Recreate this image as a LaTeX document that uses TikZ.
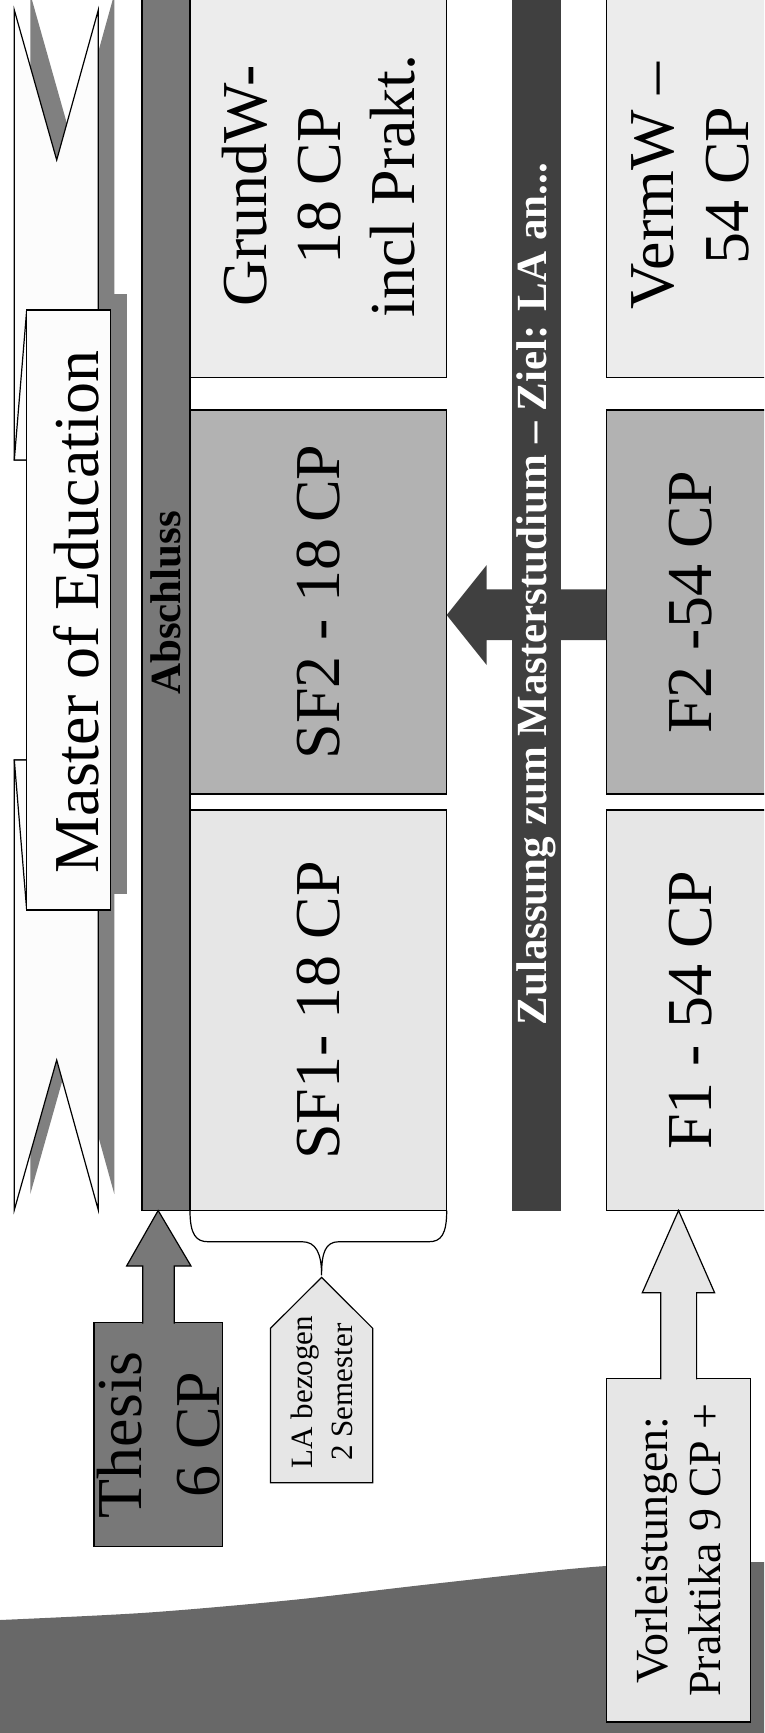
\documentclass[tikz,border=0pt]{standalone}
\usepackage{fontspec}
\setmainfont{Liberation Serif}
\usetikzlibrary{calc}

\definecolor{ribbonwhite}{HTML}{FCFCFC}
\definecolor{shadowgrey}{HTML}{808080}
\definecolor{midgrey}{HTML}{787878}
\definecolor{darkgrey}{HTML}{404040}
\definecolor{lightbox}{HTML}{ECECEC}
\definecolor{palebox}{HTML}{E6E6E6}
\definecolor{greybox}{HTML}{B2B2B2}
\definecolor{wavegrey}{HTML}{686868}

\tikzset{
    outline/.style={draw=black, line width=1.2pt},
    cpbox/.style={outline, rotate=90, inner sep=0pt, outer sep=0pt, align=center, font=\fontsize{64}{74}\selectfont},
    barbox/.style={rotate=90, inner sep=0pt, outer sep=0pt, font=\fontsize{43}{50}\selectfont\bfseries},
}

\begin{document}
\begin{tikzpicture}[x=1pt, y=-1pt]
    \useasboundingbox (0,0) rectangle (764,1733);
    \clip (0,0) rectangle (764,1733);
    
%____________________________________________________________________________________________________
    \fill[wavegrey] plot[smooth] coordinates {(0,1620) (146,1612.7) (292,1600) (438,1583.3) (606,1566) (764,1562)} -- (764,1733) -- (0,1733) -- cycle;
    
%____________________________________________________________________________________________________
    \begin{scope}[shift={(16,-16)}]
        \fill[shadowgrey] (14.3,10) -- (56.7,160) -- (98.3,10) -- (98.3,460) -- (14.3,460) -- cycle;
        \fill[shadowgrey] (14.3,760) -- (98.3,760) -- (98.3,1210) -- (56.7,1060) -- (14.3,1210) -- cycle;
        \fill[shadowgrey] (26.7,310) rectangle (110.7,910);
    \end{scope}
    \draw[outline, fill=ribbonwhite] (14.3,10) -- (56.7,160) -- (98.3,10) -- (98.3,460) -- (14.3,460) -- cycle;
    \draw[outline, fill=ribbonwhite] (14.3,760) -- (98.3,760) -- (98.3,1210) -- (56.7,1060) -- (14.3,1210) -- cycle;
    \draw[outline, fill=ribbonwhite] (26.7,310) -- (26.7,460) -- (14.3,460) -- cycle;
    \draw[outline, fill=ribbonwhite] (14.3,760) -- (26.7,760) -- (26.7,910) -- cycle;
    \draw[outline, fill=ribbonwhite] (26.7,310) rectangle (110.7,910);
    \node[rotate=90, anchor=base, font=\fontsize{64}{74}\selectfont] (title) at (98.3,612) {Master of Education};
    
%____________________________________________________________________________________________________
    \node[barbox, outline, fill=midgrey, minimum width=1215.5pt, minimum height=48pt] (abschl) at (166,602.75) {Abschluss};
    \node[cpbox, fill=lightbox, minimum width=383.7pt, minimum height=256.7pt] (grundw) at (318.35,185.85) {GrundW-\\18 CP\\incl Prakt.};
    \node[cpbox, fill=greybox, minimum width=384pt, minimum height=256.7pt] (sftwo) at (318.35,602) {SF2 - 18 CP};
    \node[cpbox, fill=palebox, minimum width=400.5pt, minimum height=256.7pt] (sfone) at (318.35,1010.25) {SF1- 18 CP};
    
%____________________________________________________________________________________________________
    \node[cpbox, fill=lightbox, minimum width=383.7pt, minimum height=168.6pt, font=\fontsize{64}{75}\selectfont] (vermw) at (690.7,185.85) {VermW –\\54 CP};
    \node[cpbox, fill=greybox, minimum width=384pt, minimum height=168.6pt] (ftwo) at (690.7,602) {F2 -54 CP};
    \node[cpbox, fill=palebox, minimum width=400.5pt, minimum height=168.6pt] (fone) at (690.7,1010.25) {F1 - 54 CP};
    \fill[darkgrey] (ftwo.north |- 0,589.3) -- (486.7,589.3) -- (486.7,565) -- (sftwo.south |- 0,615) -- (486.7,665) -- (486.7,640) -- (ftwo.north |- 0,640) -- cycle;
    \node[barbox, fill=darkgrey, text=white, minimum width=1232.5pt, minimum height=48.2pt] (zulbar) at (536.5,594.25) {Zulassung zum Masterstudium – Ziel: LA an...};
    
%____________________________________________________________________________________________________
    \node[cpbox, fill=midgrey, minimum width=224.1pt, minimum height=128.3pt, font=\fontsize{64}{78}\selectfont] (thesis) at (158.15,1434.75) {Thesis\\6 CP};
    \path[outline, fill=midgrey] ($(thesis.east -| 142.7,0)+(0,1)$) -- (142.7,1266) -- (126.6,1266) -- (thesis.center |- abschl.west) -- (191,1266) -- (174.3,1266) -- ($(thesis.east -| 174.3,0)+(0,1)$);
    
    \node[cpbox, fill=palebox, minimum width=343.7pt, minimum height=144.3pt, font=\fontsize{46}{53}\selectfont] (vorl) at (678.55,1550.15) {Vorleistungen:\\Praktika 9 CP +};
    \path[outline, fill=palebox] ($(vorl.east -| 660.7,0)+(0,1)$) -- (660.7,1292.7) -- (642.3,1292.7) -- (vorl.center |- fone.west) -- (714.6,1292.7) -- (696.6,1292.7) -- ($(vorl.east -| 696.6,0)+(0,1)$);
    
%____________________________________________________________________________________________________
    \coordinate (latip) at (321.6,1277.3);
    \draw[outline, fill=palebox] (latip) -- (372.7,1328.3) -- (372.7,1482.7) -- (270.5,1482.7) -- (270.5,1328.3) -- cycle;
    \node[rotate=90, align=center, inner sep=0pt, font=\fontsize{31}{39.5}\selectfont] (lanote) at (322,1392) {LA bezogen\\2 Semester};
    \draw[outline] (sfone.north west) .. controls +(0,24) and +(-12,0) .. (208,1241.7) -- (302,1241.7) .. controls +(14,0) and +(0,-22) .. ($(latip)+(0,-2)$) .. controls +(0,-22) and +(-14,0) .. (339,1241.7) -- (429,1241.7) .. controls +(12,0) and +(0,24) .. (sfone.south west);
\end{tikzpicture}
\end{document}
